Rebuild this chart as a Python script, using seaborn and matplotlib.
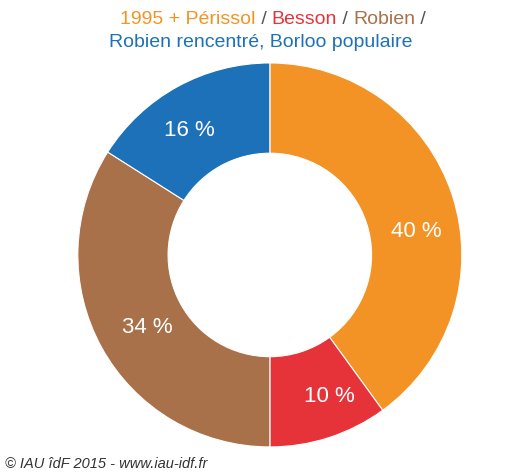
import matplotlib
matplotlib.use("Agg")
import numpy as np
import matplotlib.pyplot as plt
import seaborn as sns

# Share of each scheme, clockwise from the top
schemes = ["1995 + Périssol", "Besson", "Robien", "Robien rencentré, Borloo populaire"]
shares = [40, 10, 34, 16]
colors = ["#F39325", "#E63339", "#A8714A", "#1D71B8"]

sns.set_theme(style="white")
plt.rcParams["font.family"] = ["Liberation Sans", "DejaVu Sans"]

fig = plt.figure(figsize=(5.26, 4.73), dpi=100)
fig.patch.set_facecolor("white")
ax = fig.add_axes([0.148, 0.055, 0.730, 0.812])

wedges, texts, autotexts = ax.pie(
    shares,
    colors=colors,
    startangle=90,
    counterclock=False,
    radius=1.0,
    autopct=lambda p: f"{p:.0f} %",
    pctdistance=0.77,
    wedgeprops=dict(width=0.47, edgecolor="white", linewidth=0.8),
    textprops=dict(color="white", fontsize=16),
)

# small hand placement of the percentage labels inside the ring
angle_shift = [-9, 5, 2, 4]
label_radius = [0.77, 0.80, 0.74, 0.77]
for w, t, da, r in zip(wedges, autotexts, angle_shift, label_radius):
    mid = np.deg2rad((w.theta1 + w.theta2) / 2 + da)
    t.set_position((r * np.cos(mid), r * np.sin(mid)))

ax.set_aspect("equal")
ax.set_xlim(-1, 1)
ax.set_ylim(-1, 1)
ax.axis("off")

# Multi-coloured title, drawn piece by piece
grey = "#555555"
line1 = [("1995 + Périssol", colors[0]), (" / ", grey), ("Besson", colors[1]),
         (" / ", grey), ("Robien", colors[2]), (" /", grey)]
line2 = [(schemes[3], colors[3])]

fig.canvas.draw()
renderer = fig.canvas.get_renderer()

def draw_line(parts, y, xc):
    pieces = []
    for s, c in parts:
        t = fig.text(0, y, s, color=c, fontsize=14, ha="left", va="baseline")
        pieces.append(t)
    widths = [p.get_window_extent(renderer).width for p in pieces]
    total = sum(widths)
    x = xc - total / 2
    for p, w in zip(pieces, widths):
        p.set_x(x / fig.bbox.width)
        x += w

draw_line(line1, 1 - 24 / 473, 273)
draw_line(line2, 1 - 47 / 473, 261)

fig.text(5 / 526, 1 - 468 / 473, "© IAU îdF 2015 - www.iau-idf.fr", color="#333333",
         fontsize=10.5, style="italic", ha="left", va="baseline")

fig.savefig("out.png", dpi=100, facecolor="white")
